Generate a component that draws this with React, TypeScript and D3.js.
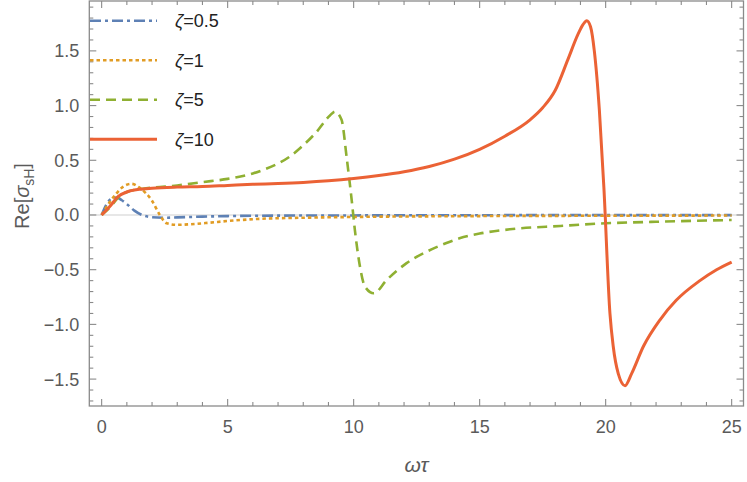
import React from 'react';
import * as d3 from 'd3';

// values (omega*tau, Re[sigma_sH])
const zeta05: [number, number][] = [
  [0, 0], [0.2, 0.1], [0.4, 0.15], [0.6, 0.16], [0.8, 0.135], [1, 0.1], [1.3, 0.04],
  [1.6, 0], [2, -0.02], [2.5, -0.025], [3, -0.022], [4, -0.015], [5, -0.01], [7, -0.006],
  [10, -0.004], [15, -0.002], [20, -0.001], [25, -0.001],
];
const zeta1: [number, number][] = [
  [0, 0], [0.33, 0.12], [0.6, 0.2], [0.86, 0.26], [1.19, 0.285], [1.5, 0.25], [1.75, 0.2],
  [1.98, 0.137], [2.31, 0], [2.58, -0.076], [2.98, -0.09], [3.5, -0.085], [4.3, -0.07],
  [5, -0.055], [6.28, -0.035], [8, -0.025], [10, -0.018], [15, -0.01], [20, -0.007], [25, -0.005],
];
const zeta5: [number, number][] = [
  [0, 0], [0.33, 0.07], [0.66, 0.16], [1, 0.21], [1.5, 0.235], [2, 0.25], [3, 0.27],
  [4, 0.3], [5, 0.33], [6, 0.38], [6.5, 0.42], [7, 0.47], [7.5, 0.54], [7.87, 0.61],
  [8.53, 0.76], [9.06, 0.91], [9.26, 0.944], [9.52, 0.87], [9.72, 0.53], [9.92, 0.14],
  [10.05, -0.14], [10.25, -0.47], [10.45, -0.655], [10.8, -0.716], [11.31, -0.594],
  [12.1, -0.44], [12.9, -0.335], [13.82, -0.244], [14.2, -0.213], [15, -0.17],
  [16.2, -0.131], [18.2, -0.1], [20, -0.076], [22, -0.062], [25, -0.046],
];
const zeta10: [number, number][] = [
  [0, 0], [0.33, 0.08], [0.66, 0.17], [1, 0.21], [1.5, 0.235], [2, 0.245], [3, 0.255],
  [4, 0.26], [5, 0.27], [6, 0.28], [7, 0.287], [8, 0.297], [9, 0.312], [10, 0.333],
  [11, 0.36], [12, 0.395], [13, 0.443], [14, 0.51], [15, 0.6], [16, 0.72], [17, 0.87],
  [17.5, 0.98], [18, 1.14], [18.5, 1.42], [18.9, 1.65], [19.1, 1.74], [19.25, 1.775],
  [19.4, 1.72], [19.55, 1.5], [19.75, 0.96], [19.93, 0.25], [20.17, -0.9], [20.3, -1.2],
  [20.5, -1.45], [20.77, -1.56], [21.03, -1.45], [21.5, -1.2], [22.15, -0.96], [22.8, -0.78],
  [23.74, -0.6], [24.4, -0.5], [25, -0.43],
];

const seriesLabels = ['0.5', '1', '5', '10'];
const xTicks = [0, 5, 10, 15, 20, 25];
const yTicks = [-1.5, -1.0, -0.5, 0.0, 0.5, 1.0, 1.5];

const width = 747;
const height = 482;
const frame = { left: 89.3, right: 743.5, top: 1, bottom: 406 };

const series = [
  { data: zeta05, color: '#5E81B5', dash: '11,4,3,4', w: 2.6 },
  { data: zeta1, color: '#E19C24', dash: '3.5,3', w: 2.6 },
  { data: zeta5, color: '#8FB032', dash: '10,6', w: 2.6 },
  { data: zeta10, color: '#EB6235', dash: null, w: 3 },
];

export default function App() {
  const x = d3.scaleLinear().domain([-0.49, 25.47]).range([frame.left, frame.right]);
  const y = d3.scaleLinear().domain([-1.746, 1.956]).range([frame.bottom, frame.top]);

  const line = d3
    .line<[number, number]>()
    .x((d) => x(d[0]))
    .y((d) => y(d[1]))
    .curve(d3.curveMonotoneX);

  const axisColor = '#8a8a8a';
  const labelColor = '#5a5a5a';
  const font = "'Liberation Sans Narrow', 'Liberation Sans', Arial, sans-serif";
  const legendFont = "'Liberation Sans', Arial, sans-serif";

  const xMinor = d3.range(0, 26, 1);
  const yMinor = d3.range(-17, 20, 1).map((v) => v / 10);

  return (
    <svg
      width={width}
      height={height}
      viewBox={`0 0 ${width} ${height}`}
      style={{ position: 'absolute', left: 0, top: 0, background: '#fff' }}
    >
      {/* zero line */}
      <line x1={frame.left} x2={frame.right} y1={y(0)} y2={y(0)} stroke='#cfcfcf' strokeWidth={1.2} />

      {/* frame */}
      <rect
        x={frame.left}
        y={frame.top}
        width={frame.right - frame.left}
        height={frame.bottom - frame.top}
        fill='none'
        stroke={axisColor}
        strokeWidth={1.3}
      />

      {/* x ticks */}
      {xMinor.map((t) => {
        const major = t % 5 === 0;
        const len = major ? 7 : 4;
        return (
          <g key={'xt' + t}>
            <line x1={x(t)} x2={x(t)} y1={frame.bottom} y2={frame.bottom - len} stroke={axisColor} strokeWidth={1.1} />
            <line x1={x(t)} x2={x(t)} y1={frame.top} y2={frame.top + len} stroke={axisColor} strokeWidth={1.1} />
          </g>
        );
      })}
      {yMinor.map((t) => {
        const major = Math.abs(Math.round(t * 10) % 5) === 0;
        const len = major ? 7 : 4;
        return (
          <g key={'yt' + t}>
            <line x1={frame.left} x2={frame.left + len} y1={y(t)} y2={y(t)} stroke={axisColor} strokeWidth={1.1} />
            <line x1={frame.right} x2={frame.right - len} y1={y(t)} y2={y(t)} stroke={axisColor} strokeWidth={1.1} />
          </g>
        );
      })}

      {/* tick labels */}
      {xTicks.map((t) => (
        <text key={'xl' + t} x={x(t)} y={433} textAnchor='middle' fontSize={18} fill={labelColor} fontFamily={font}>
          {t}
        </text>
      ))}
      {yTicks.map((t) => (
        <text key={'yl' + t} x={frame.left - 10} y={y(t) + 6.5} textAnchor='end' fontSize={18} fill={labelColor} fontFamily={font}>
          {t < 0 ? '\u2212' + Math.abs(t).toFixed(1) : t.toFixed(1)}
        </text>
      ))}

      {/* axis titles */}
      <text x={(frame.left + frame.right) / 2} y={472} textAnchor='middle' fontSize={21} fill={labelColor} fontFamily={legendFont} fontStyle='italic'>
        ωτ
      </text>
      <text
        transform={`translate(29, 196) rotate(-90)`}
        textAnchor='middle'
        fontSize={20}
        fill={labelColor}
        fontFamily={legendFont}
      >
        Re[<tspan fontStyle='italic'>σ</tspan>
        <tspan fontSize={14} dy={5}>sH</tspan>
        <tspan dy={-5}>]</tspan>
      </text>

      {/* curves */}
      {series.map((s, i) => (
        <path
          key={'s' + i}
          d={line(s.data) || ''}
          fill='none'
          stroke={s.color}
          strokeWidth={s.w}
          strokeDasharray={s.dash || undefined}
        />
      ))}

      {/* legend */}
      {series.map((s, i) => {
        const ly = 20.7 + i * 39.5;
        return (
          <g key={'lg' + i}>
            <line x1={90} x2={157} y1={ly} y2={ly} stroke={s.color} strokeWidth={s.w} strokeDasharray={s.dash || undefined} />
            <text x={175} y={ly + 6.5} fontSize={18} fill='#222' fontFamily={legendFont}>
              <tspan fontStyle='italic'>ζ</tspan>={seriesLabels[i]}
            </text>
          </g>
        );
      })}
    </svg>
  );
}
